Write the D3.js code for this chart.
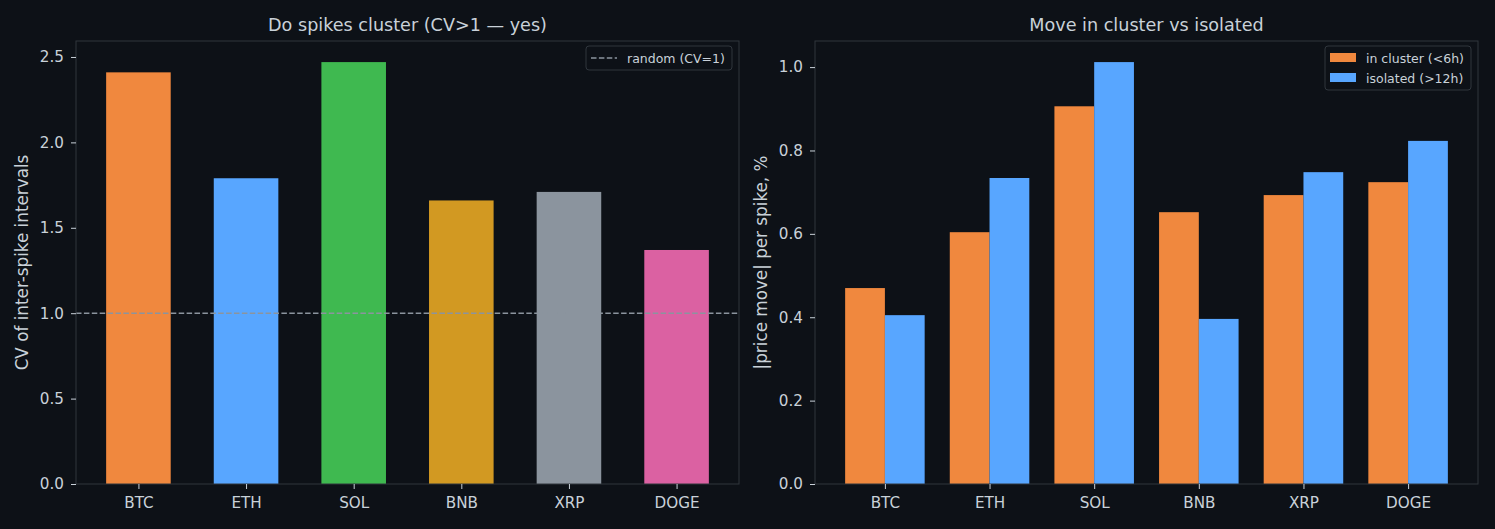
<!DOCTYPE html>
<html>
<head>
<meta charset="utf-8">
<script src="https://cdn.jsdelivr.net/npm/d3@7"></script>
<style>
  html, body { margin: 0; padding: 0; background: #0d1117; }
  svg { display: block; }
  text { font-family: "DejaVu Sans", sans-serif; }
</style>
</head>
<body>
<div id="chart"></div>
<script>
const coins = ["BTC", "ETH", "SOL", "BNB", "XRP", "DOGE"];
const coinColors = ["#f0883e", "#58a6ff", "#3fb950", "#d29922", "#8b949e", "#db61a2"];
const cvValues = [2.41, 1.79, 2.47, 1.66, 1.71, 1.37];
const clusterMove = [0.470, 0.604, 0.906, 0.652, 0.693, 0.724];
const isolatedMove = [0.405, 0.734, 1.012, 0.396, 0.748, 0.823];
const cvTicks = [0.0, 0.5, 1.0, 1.5, 2.0, 2.5];
const moveTicks = [0.0, 0.2, 0.4, 0.6, 0.8, 1.0];

const W = 1495, H = 529;
const bg = "#0d1117", spine = "#30363d", txt = "#c9d1d9";
const tickFont = "15.2px", labelFont = "16.8px", titleFont = "17.6px", legendFont = "12.5px";

const svg = d3.select("#chart").append("svg")
  .attr("width", W).attr("height", H);
svg.append("rect").attr("width", W).attr("height", H).attr("fill", bg);

function frame(g, x0, x1, y0, y1, title, ylabel, y, ticks) {
  g.append("rect")
    .attr("x", x0).attr("y", y0)
    .attr("width", x1 - x0).attr("height", y1 - y0)
    .attr("fill", "none").attr("stroke", spine).attr("stroke-width", 1);

  const ax = g.append("g").attr("transform", `translate(${x0},0)`)
    .call(d3.axisLeft(y).tickValues(ticks).tickFormat(d3.format(".1f")).tickSize(5).tickPadding(7));
  ax.select(".domain").remove();
  ax.selectAll("line").attr("stroke", txt);
  ax.selectAll("text").attr("fill", txt).style("font-size", tickFont);

  g.append("text")
    .attr("x", (x0 + x1) / 2).attr("y", 30.5)
    .attr("text-anchor", "middle").attr("fill", txt)
    .style("font-size", titleFont).text(title);

  g.append("text")
    .attr("transform", `translate(${x0 - 48},${(y0 + y1) / 2}) rotate(-90)`)
    .attr("text-anchor", "middle").attr("fill", txt)
    .style("font-size", labelFont).text(ylabel);
}

function xAxis(g, x, y1) {
  const ax = g.append("g").attr("transform", `translate(0,${y1})`)
    .call(d3.axisBottom(x).tickValues(d3.range(coins.length)).tickFormat(i => coins[i]).tickSize(5).tickPadding(8));
  ax.select(".domain").remove();
  ax.selectAll("line").attr("stroke", txt);
  ax.selectAll("text").attr("fill", txt).style("font-size", tickFont);
}

// ---- left panel
{
  const x0 = 76, x1 = 739, y0 = 41, y1 = 484;
  const g = svg.append("g");
  const bw = 0.6;
  const pad = 0.05 * (coins.length - 1 + bw);
  const x = d3.scaleLinear().domain([-bw / 2 - pad, coins.length - 1 + bw / 2 + pad]).range([x0, x1]);
  const y = d3.scaleLinear().domain([0, d3.max(cvValues) * 1.05]).range([y1, y0]);

  g.selectAll("rect.bar").data(cvValues).enter().append("rect")
    .attr("x", (d, i) => x(i - bw / 2))
    .attr("width", (d, i) => x(i + bw / 2) - x(i - bw / 2))
    .attr("y", d => y(d)).attr("height", d => y(0) - y(d))
    .attr("fill", (d, i) => coinColors[i]);

  g.append("line")
    .attr("x1", x0).attr("x2", x1).attr("y1", y(1)).attr("y2", y(1))
    .attr("stroke", "#8b949e").attr("stroke-width", 1.5).attr("stroke-dasharray", "5.5,2.4");

  frame(g, x0, x1, y0, y1, "Do spikes cluster (CV>1 \u2014 yes)", "CV of inter-spike intervals", y, cvTicks);
  xAxis(g, x, y1);

  const lg = g.append("g").attr("transform", "translate(586,46)");
  lg.append("rect").attr("width", 146).attr("height", 24).attr("rx", 3)
    .attr("fill", bg).attr("stroke", spine);
  lg.append("line").attr("x1", 5).attr("x2", 31).attr("y1", 12).attr("y2", 12)
    .attr("stroke", "#8b949e").attr("stroke-width", 1.5).attr("stroke-dasharray", "5.5,2.4");
  lg.append("text").attr("x", 41).attr("y", 16.5).attr("fill", txt)
    .style("font-size", legendFont).text("random (CV=1)");
}

// ---- right panel
{
  const x0 = 815, x1 = 1478, y0 = 41, y1 = 484;
  const g = svg.append("g");
  const bw = 0.38;
  const pad = 0.05 * (coins.length - 1 + 2 * bw);
  const x = d3.scaleLinear().domain([-bw - pad, coins.length - 1 + bw + pad]).range([x0, x1]);
  const y = d3.scaleLinear().domain([0, d3.max(isolatedMove.concat(clusterMove)) * 1.05]).range([y1, y0]);

  const series = [
    { name: "in cluster (<6h)", values: clusterMove, color: "#f0883e", off: -bw },
    { name: "isolated (>12h)", values: isolatedMove, color: "#58a6ff", off: 0 }
  ];

  series.forEach(s => {
    g.selectAll(null).data(s.values).enter().append("rect")
      .attr("x", (d, i) => x(i + s.off))
      .attr("width", (d, i) => x(i + s.off + bw) - x(i + s.off))
      .attr("y", d => y(d)).attr("height", d => y(0) - y(d))
      .attr("fill", s.color);
  });

  frame(g, x0, x1, y0, y1, "Move in cluster vs isolated", "|price move| per spike, %", y, moveTicks);
  xAxis(g, x, y1);

  const lg = g.append("g").attr("transform", "translate(1325,46)");
  lg.append("rect").attr("width", 146).attr("height", 44).attr("rx", 3)
    .attr("fill", bg).attr("stroke", spine);
  series.forEach((s, i) => {
    lg.append("rect").attr("x", 5).attr("y", 7 + i * 20).attr("width", 26).attr("height", 9)
      .attr("fill", s.color);
    lg.append("text").attr("x", 41).attr("y", 16.5 + i * 20).attr("fill", txt)
      .style("font-size", legendFont).text(s.name);
  });
}
</script>
</body>
</html>
